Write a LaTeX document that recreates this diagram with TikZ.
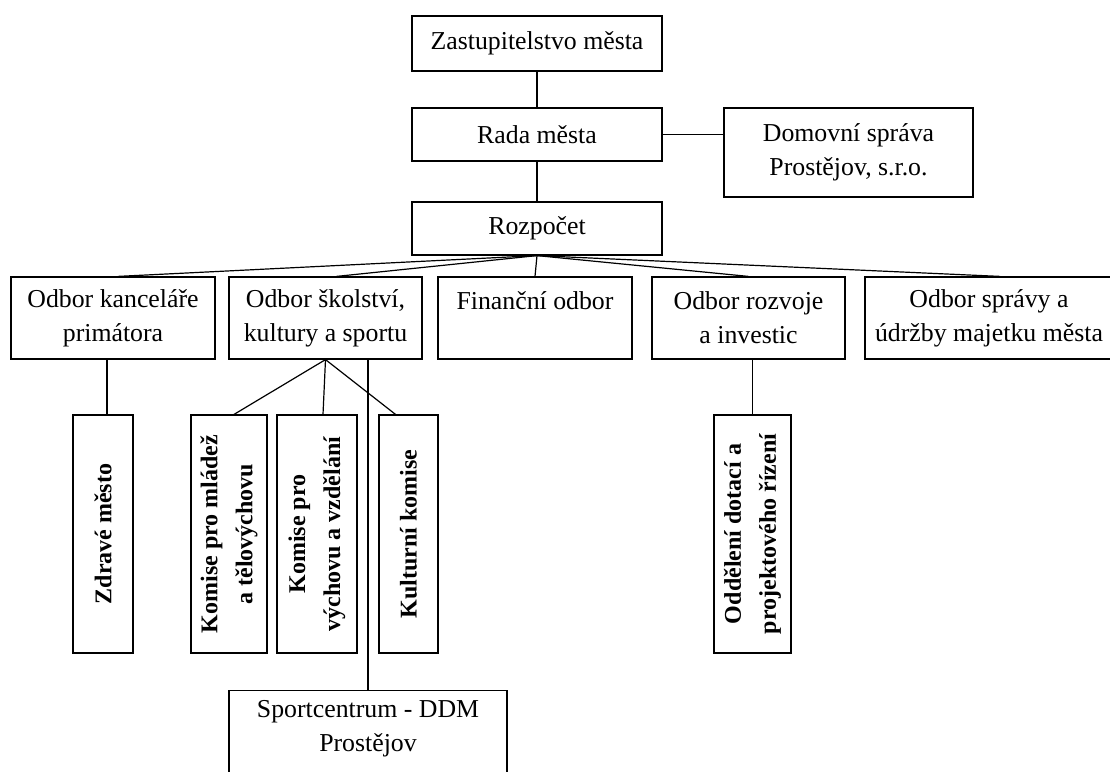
\documentclass[tikz,border=0pt]{standalone}
\usepackage{fontspec}
\setmainfont{Liberation Serif}

\begin{document}
\begin{tikzpicture}[
    x=1pt, y=-1pt,
    unit/.style={rectangle, draw, line width=1.2pt, align=center, inner sep=0pt, font=\fontsize{25.8}{34}\selectfont},
    sub/.style={rectangle, draw, line width=1.2pt, align=center, inner sep=0pt, rotate=90, minimum width=238, font=\fontsize{24}{35}\selectfont\bfseries},
    link/.style={line width=1.2pt}
]
\useasboundingbox (0,0) rectangle (1110,771);

\node[unit, minimum width=250, minimum height=55] (zast) at (537,43.5) {Zastupitelstvo města};
\node[unit, minimum width=250, minimum height=53] (rada) at (537,134.5) {Rada města};
\node[unit, minimum width=249, minimum height=89] (dom) at (848.5,152.5) {Domovní správa\\Prostějov, s.r.o.};
\node[unit, minimum width=250, minimum height=53] (rozp) at (537,228.5) {Rozpočet};

\node[unit, minimum width=204, minimum height=82] (kanc) at (113,318) {Odbor kanceláře\\primátora};
\node[unit, minimum width=193, minimum height=82] (skol) at (325.5,318) {Odbor školství,\\kultury a sportu};
\node[unit, minimum width=194, minimum height=82] (fin) at (535,318) {Finanční odbor\\~};
\node[unit, minimum width=193, minimum height=82] (rozv) at (748.5,318) {Odbor rozvoje\\a investic};
\node[unit, minimum width=248, minimum height=82] (sprava) at (989,318) {Odbor správy a\\údržby majetku města};

\node[sub, minimum height=60] (zdrave) at (103,534) {Zdravé město};
\node[sub, minimum height=76] (mladez) at (229,534) {Komise pro mládež\\a tělovýchovu};
\node[sub, minimum height=80] (vychova) at (317,534) {Komise pro\\výchovu a vzdělání};
\node[sub, minimum height=59] (kultura) at (408.5,534) {Kulturní komise};
\node[sub, minimum height=77] (oddeleni) at (752.5,534) {Oddělení dotací a\\projektového řízení};

\node[unit, anchor=north, minimum width=278, inner ysep=9.4pt] (sport) at (368,690) {Sportcentrum - DDM\\Prostějov\\~};

\draw[link] (zast) -- (rada);
\draw[link] (rada) -- (rozp);
\draw[link] (rada.east) -- (rada.east -| dom.west);

\draw[link] (rozp.south) -- ([xshift=5]kanc.north);
\draw[link] (rozp.south) -- ([xshift=11]skol.north);
\draw[link] (rozp.south) -- (fin.north);
\draw[link] (rozp.south) -- (rozv.north);
\draw[link] (rozp.south) -- ([xshift=11]sprava.north);

\draw[link] ([xshift=4]zdrave.east |- kanc.south) -- ([xshift=4]zdrave.east);
\draw[link] (skol.south) -- ([xshift=5]mladez.east);
\draw[link] (skol.south) -- ([xshift=6]vychova.east);
\draw[link] (skol.south) -- ([xshift=-13]kultura.east);
\draw[link] (sport.north |- skol.south) -- (sport.north);
\draw[link] (oddeleni.east |- rozv.south) -- (oddeleni.east);

\end{tikzpicture}
\end{document}
